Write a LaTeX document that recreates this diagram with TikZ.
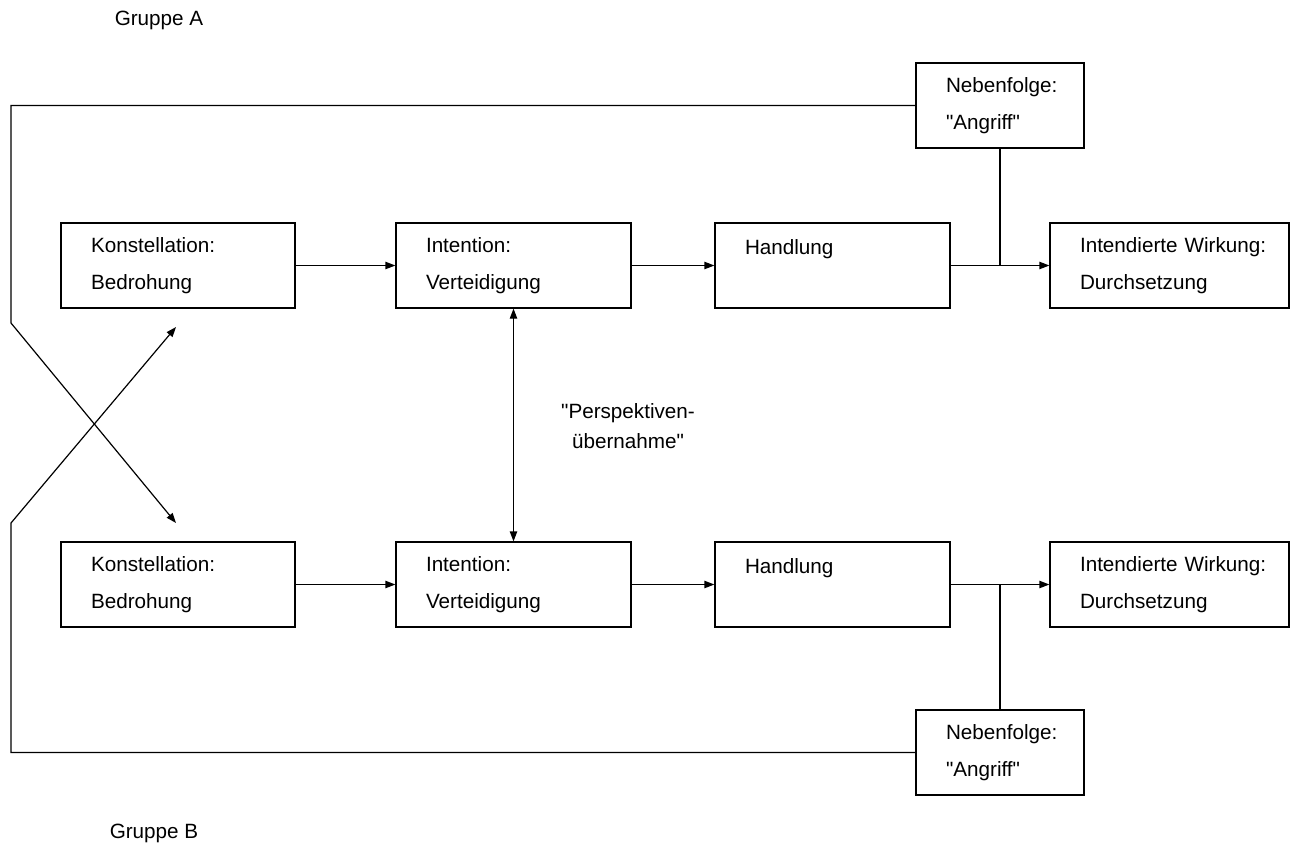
\documentclass[tikz,border=0pt]{standalone}
\usepackage{fontspec}
\setmainfont{Liberation Sans}
\usetikzlibrary{arrows.meta}
\newcommand\twol[2]{\hspace*{22.5pt}#1\\\hspace*{22.5pt}#2}
\begin{document}
\begin{tikzpicture}[x=0.75pt,y=-0.75pt,
  every node/.style={font=\fontsize{15.5}{27.75}\selectfont},
  box/.style={draw, line width=0.9pt, rectangle, minimum height=85*0.75pt, inner xsep=0pt, inner ysep=0pt, align=left},
  conn/.style={line width=0.9pt},
  arr/.style={conn, -{Triangle[length=7.5pt,width=5.5pt]}},
  darr/.style={conn, {Triangle[length=7.5pt,width=5.5pt]}-{Triangle[length=7.5pt,width=5.5pt]}},
  plain/.style={inner sep=0pt}
]
\useasboundingbox (0,0) rectangle (1294,853);
% top row
\node[box, text width=234*0.75pt] (K1) at (178,265.5) {\twol{Konstellation:}{Bedrohung}};
\node[box, text width=235*0.75pt] (I1) at (513.5,265.5) {\twol{Intention:}{Verteidigung}};
\node[box, text width=235*0.75pt] (H1) at (832.5,265.5) {\twol{Handlung}{\mbox{}}};
\node[box, text width=239*0.75pt] (W1) at (1169.5,265.5) {\twol{Intendierte Wirkung:}{Durchsetzung}};
\node[box, text width=168*0.75pt] (N1) at (1000,105.5) {\twol{Nebenfolge:}{\textquotedbl Angriff\textquotedbl}};
% bottom row
\node[box, text width=234*0.75pt] (K2) at (178,584.5) {\twol{Konstellation:}{Bedrohung}};
\node[box, text width=235*0.75pt] (I2) at (513.5,584.5) {\twol{Intention:}{Verteidigung}};
\node[box, text width=235*0.75pt] (H2) at (832.5,584.5) {\twol{Handlung}{\mbox{}}};
\node[box, text width=239*0.75pt] (W2) at (1169.5,584.5) {\twol{Intendierte Wirkung:}{Durchsetzung}};
\node[box, text width=168*0.75pt] (N2) at (1000,752.5) {\twol{Nebenfolge:}{\textquotedbl Angriff\textquotedbl}};
% labels
\node[plain, align=center, font=\fontsize{15.5}{22.5}\selectfont] (P) at (628,426) {\textquotedbl Perspektiven-\\übernahme\textquotedbl};
\node[plain] (GA) at (159,20) {Gruppe A};
\node[plain] (GB) at (154,833) {Gruppe B};
% row connectors
\draw[arr] (K1) -- (I1);
\draw[arr] (I1) -- (H1);
\draw[arr] (H1) -- (W1);
\draw[arr] (K2) -- (I2);
\draw[arr] (I2) -- (H2);
\draw[arr] (H2) -- (W2);
\draw[conn] (N1.south) -- (N1.south |- H1.east);
\draw[conn] (N2.north) -- (N2.north |- H2.east);
\draw[darr] (I1) -- (I2);
% feedback lines
\coordinate (c1) at (11,323);
\coordinate (t1) at (176,523);
\coordinate (c2) at (11,523);
\coordinate (t2) at (176,327);
\draw[arr] (N1.west) -| (c1) -- (t1);
\draw[arr] (N2.west) -| (c2) -- (t2);
\end{tikzpicture}
\end{document}
